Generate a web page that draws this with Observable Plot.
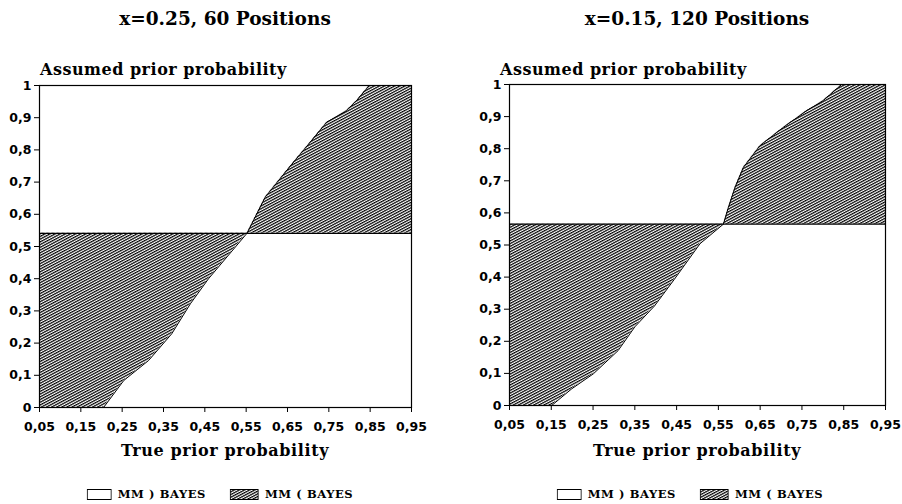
<!DOCTYPE html>
<html><head><meta charset="utf-8">
<script src="https://cdn.jsdelivr.net/npm/d3@7"></script>
<script src="https://cdn.jsdelivr.net/npm/@observablehq/plot@0.6"></script>
<style>
body{margin:0;background:#fff;width:902px;height:504px;position:relative;overflow:hidden;color:#000;font-family:"DejaVu Serif",serif}
.abs{position:absolute;white-space:nowrap}
.title{font-size:18.5px;font-weight:bold;line-height:22px;transform:translateX(-50%)}
.ylab{font-size:16px;font-weight:bold;line-height:18px;letter-spacing:0.5px}
.xlab{font-size:16px;font-weight:bold;line-height:18px;letter-spacing:0.6px;transform:translateX(-50%)}
.legend{font-size:11.5px;font-weight:bold;line-height:12px;letter-spacing:0.6px;display:flex;align-items:center;transform:translateX(-50%);font-family:"DejaVu Serif",serif}
.legend svg{display:block;margin-right:6px}
.legend span{margin-right:24px}
</style></head><body>
<svg width="0" height="0" style="position:absolute">
  <defs>
    <pattern id="hatch" width="2.4" height="2.4" patternUnits="userSpaceOnUse" patternTransform="rotate(-28)">
      <rect width="2.4" height="2.4" fill="#fff"/>
      <line x1="0" y1="0.6" x2="2.4" y2="0.6" stroke="#000" stroke-width="1.25"/>
    </pattern>
  </defs>
</svg>
<script>
// ---- data ----
const xTicks = [0.05, 0.15, 0.25, 0.35, 0.45, 0.55, 0.65, 0.75, 0.85, 0.95];
const yTicks = [0, 0.1, 0.2, 0.3, 0.4, 0.5, 0.6, 0.7, 0.8, 0.9, 1];
const titles = ["x=0.25, 60 Positions", "x=0.15, 120 Positions"];
const xLabel = "True prior probability";
const yLabel = "Assumed prior probability";
const legendLabels = ["MM ) BAYES", "MM ( BAYES"];

// panel 1 (x=0.25, 60 positions)
const leftLevel = 0.541;
const leftLowerX = [0.05, 0.205, 0.254, 0.314, 0.37, 0.415, 0.459, 0.552];
const leftLowerY = [0, 0, 0.084, 0.146, 0.229, 0.322, 0.40, 0.541];
const leftUpperX = [0.552, 0.596, 0.648, 0.705, 0.745, 0.793, 0.817, 0.848, 0.95];
const leftUpperY = [0.541, 0.653, 0.736, 0.824, 0.886, 0.922, 0.953, 1, 1];

// panel 2 (x=0.15, 120 positions)
const rightLevel = 0.565;
const rightLowerX = [0.05, 0.151, 0.199, 0.251, 0.31, 0.35, 0.397, 0.444, 0.506, 0.562];
const rightLowerY = [0, 0, 0.052, 0.099, 0.171, 0.245, 0.31, 0.392, 0.504, 0.565];
const rightUpperX = [0.562, 0.574, 0.59, 0.61, 0.65, 0.706, 0.762, 0.801, 0.845, 0.95];
const rightUpperY = [0.565, 0.617, 0.68, 0.742, 0.81, 0.867, 0.919, 0.95, 1, 1];

const fmtX = d => d.toFixed(2).replace(".", ",");
const fmtY = d => (d === 0 ? "0" : d === 1 ? "1" : d.toFixed(1).replace(".", ","));

function rows(xs, ys, level) { return xs.map((x, i) => ({x, y: ys[i], h: level})); }

function panel(cfg) {
  const lower = rows(cfg.lowerX, cfg.lowerY, cfg.level);
  const upper = rows(cfg.upperX, cfg.upperY, cfg.level);
  const chart = Plot.plot({
    width: cfg.width, height: cfg.height,
    marginLeft: 39, marginRight: cfg.marginRight, marginTop: 10, marginBottom: 55,
    x: {domain: [0.05, 0.95]},
    y: {domain: [0, 1]},
    style: {fontFamily: "DejaVu Sans", fontSize: "12.5px", fontWeight: "bold", background: "#fff", color: "#000", overflow: "visible"},
    marks: [
      Plot.areaY(lower, {x: "x", y1: "y", y2: "h", fill: "url(#hatch)"}),
      Plot.areaY(upper, {x: "x", y1: "h", y2: "y", fill: "url(#hatch)"}),
      Plot.line(lower, {x: "x", y: "y", stroke: "#000", strokeWidth: 1}),
      Plot.line(upper, {x: "x", y: "y", stroke: "#000", strokeWidth: 1}),
      Plot.ruleY([cfg.level], {stroke: "#000", strokeWidth: 1.2}),
      Plot.frame({stroke: "#000", strokeWidth: 1.2}),
      Plot.axisX({ticks: xTicks, tickFormat: fmtX, tickSize: 5, tickPadding: 10, label: null, stroke: "#000"}),
      Plot.axisY({ticks: yTicks, tickFormat: fmtY, tickSize: 5, tickPadding: 3, label: null, stroke: "#000"})
    ]
  });
  chart.style.position = "absolute";
  chart.style.left = cfg.left + "px";
  chart.style.top = cfg.top + "px";
  document.body.appendChild(chart);

  const t = document.createElement("div");
  t.className = "abs title"; t.textContent = cfg.title;
  t.style.left = cfg.titleX + "px"; t.style.top = "8px";
  document.body.appendChild(t);

  const yl = document.createElement("div");
  yl.className = "abs ylab"; yl.textContent = yLabel;
  yl.style.left = cfg.yLabelX + "px"; yl.style.top = "61px";
  document.body.appendChild(yl);

  const xl = document.createElement("div");
  xl.className = "abs xlab"; xl.textContent = xLabel;
  xl.style.left = cfg.titleX + "px"; xl.style.top = "442px";
  document.body.appendChild(xl);

  const lg = document.createElement("div");
  lg.className = "abs legend";
  lg.style.left = cfg.legendX + "px"; lg.style.top = "488px";
  lg.innerHTML =
    `<svg width="25" height="11"><rect x="0.5" y="0.5" width="24" height="10" fill="#fff" stroke="#000"/></svg><span>${legendLabels[0]}</span>` +
    `<svg width="29" height="11"><rect x="0.5" y="0.5" width="28" height="10" fill="url(#hatch)" stroke="#000"/></svg><span style="margin-right:0">${legendLabels[1]}</span>`;
  document.body.appendChild(lg);
}

panel({left: 0, top: 75, width: 451, height: 387, marginRight: 40, level: leftLevel,
  lowerX: leftLowerX, lowerY: leftLowerY, upperX: leftUpperX, upperY: leftUpperY,
  title: titles[0], titleX: 225, yLabelX: 40, legendX: 220});
panel({left: 470, top: 74, width: 430, height: 386, marginRight: 15, level: rightLevel,
  lowerX: rightLowerX, lowerY: rightLowerY, upperX: rightUpperX, upperY: rightUpperY,
  title: titles[1], titleX: 697, yLabelX: 500, legendX: 690});
</script>
</body></html>
